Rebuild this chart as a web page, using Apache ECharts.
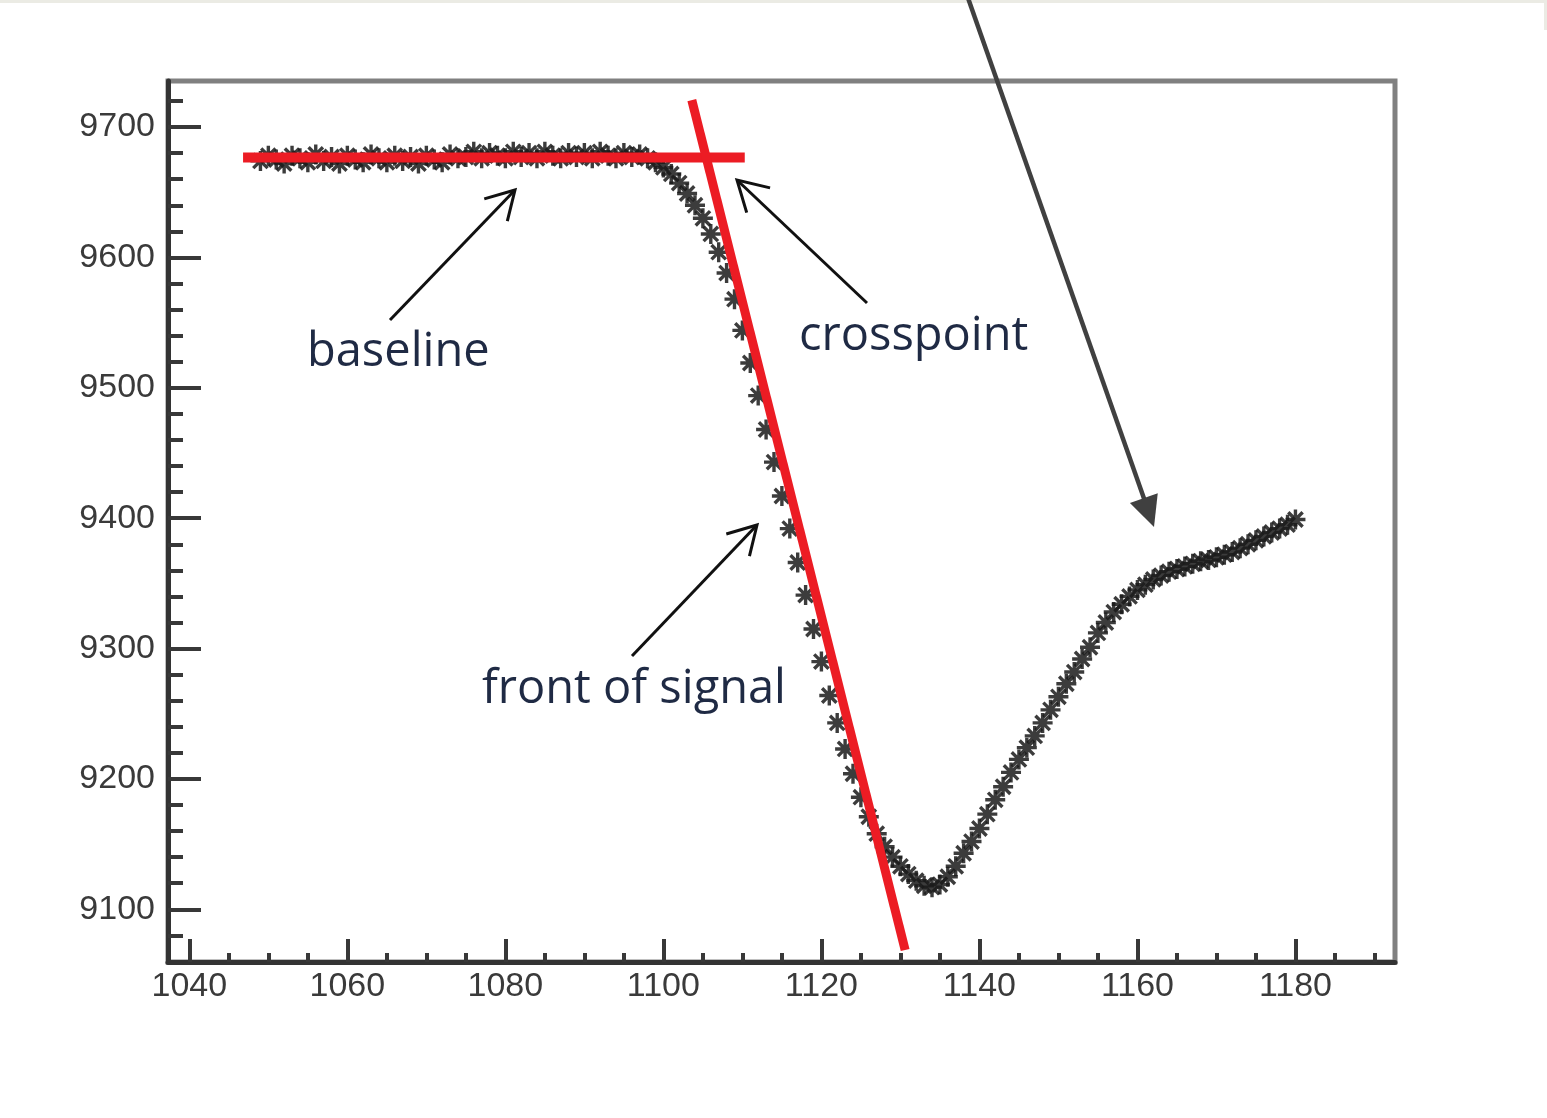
<!DOCTYPE html>
<html>
<head>
<meta charset="utf-8">
<script src="https://cdn.jsdelivr.net/npm/echarts@6/dist/echarts.min.js"></script>
<style>
html,body{margin:0;padding:0;background:#fff}
#main{width:1547px;height:1118px}
</style>
</head>
<body>
<div id="main"></div>
<script>
// sample positions (1 unit step) and signal values
var startX = 1049;
var signalY = [
    9674, 9678, 9675, 9672, 9678, 9676, 9673, 9679, 9674, 9677, 9672, 9678, 9675,
    9673, 9679, 9676, 9673, 9678, 9674, 9677, 9672, 9678, 9675, 9673, 9679, 9676,
    9677, 9681, 9676, 9680, 9678, 9676, 9681, 9677, 9680, 9676, 9681, 9678,
    9676, 9680, 9677, 9680, 9676, 9681, 9678, 9676, 9680, 9677, 9679,
    9676, 9673, 9669, 9664, 9657, 9649, 9640, 9630, 9618, 9604, 9588, 9568,
    9544, 9519, 9494, 9468, 9443, 9417, 9392, 9366, 9341, 9315, 9290, 9264,
    9243, 9223, 9204, 9186, 9171, 9158, 9148, 9140, 9133, 9127, 9122, 9118,
    9117, 9119, 9125, 9133, 9143, 9152, 9162, 9173, 9184, 9194, 9205, 9215,
    9224, 9233, 9243, 9253, 9263, 9273, 9282, 9292, 9301, 9312, 9320, 9328,
    9334, 9340, 9345, 9349, 9353, 9356, 9359, 9361, 9363, 9365, 9367, 9368,
    9370, 9372, 9374, 9377, 9380, 9383, 9386, 9389, 9392, 9395, 9399
];
// red fit lines
var baseFitX = [1046.8, 1110.3];
var baseFitY = [9676.7, 9676.7];
var frontFitX = [1103.6, 1130.6];
var frontFitY = [9720.7, 9068.8];
// axis ticks: [from, to, step]
var xMajor = [1040, 1180, 20];
var xMinor = [1040, 1190, 5];
var yMajor = [9100, 9700, 100];
var yMinor = [9080, 9720, 20];

// plot frame (px) and value range
var GL = 168, GT = 81, GW = 1227, GH = 881;
var X_MIN = 1037.3, X_MAX = 1192.6, Y_MIN = 9059.6, Y_MAX = 9735.3;

function px(v) { return GL + (v - X_MIN) / (X_MAX - X_MIN) * GW; }
function py(v) { return GT + (Y_MAX - v) / (Y_MAX - Y_MIN) * GH; }

function pairs(xs, ys) {
    var out = [];
    for (var i = 0; i < ys.length; i++) out.push([xs[i], ys[i]]);
    return out;
}

var signalX = [];
for (var i = 0; i < signalY.length; i++) signalX.push(startX + i);

var tickColor = '#383838';

// grids: 0 data, 1 x major, 2 x minor, 3 y major, 4 y minor
var grids = [
    { left: GL, top: GT, width: GW, height: GH, show: true, borderColor: '#808080', borderWidth: 5, backgroundColor: '#fff' },
    { left: px(xMajor[0]), top: GT, width: px(xMajor[1]) - px(xMajor[0]), height: GH },
    { left: px(xMinor[0]), top: GT, width: px(xMinor[1]) - px(xMinor[0]), height: GH },
    { left: GL, top: py(yMajor[1]), width: GW, height: py(yMajor[0]) - py(yMajor[1]) },
    { left: GL, top: py(yMinor[1]), width: GW, height: py(yMinor[0]) - py(yMinor[1]) }
];

function hidden(idx) {
    return { type: 'value', gridIndex: idx, show: false, min: 0, max: 1 };
}

function makeTickAxis(idx, r, len, withLabel, margin) {
    var ax = {
        type: 'value', gridIndex: idx, min: r[0], max: r[1], interval: r[2],
        axisLine: { show: false },
        axisTick: { show: true, inside: true, length: len, lineStyle: { color: tickColor, width: 4 } },
        splitLine: { show: false }
    };
    if (withLabel) {
        ax.axisLabel = {
            show: true, margin: margin, fontFamily: 'Liberation Sans', fontSize: 34, color: '#3a3a3a',
            formatter: function (v) { return String(v); }
        };
    } else {
        ax.axisLabel = { show: false };
    }
    return ax;
}

var xAxes = [
    {
        type: 'value', gridIndex: 0, min: X_MIN, max: X_MAX,
        axisLine: { show: true, lineStyle: { color: '#333', width: 5 } },
        axisTick: { show: false }, axisLabel: { show: false }, splitLine: { show: false }
    },
    makeTickAxis(1, xMajor, 23, true, 8),
    makeTickAxis(2, xMinor, 9, false),
    hidden(3),
    hidden(4)
];
var yAxes = [
    {
        type: 'value', gridIndex: 0, min: Y_MIN, max: Y_MAX,
        axisLine: { show: true, lineStyle: { color: '#333', width: 5 } },
        axisTick: { show: false }, axisLabel: { show: false }, splitLine: { show: false }
    },
    hidden(1),
    hidden(2),
    makeTickAxis(3, yMajor, 33, true, 13),
    makeTickAxis(4, yMinor, 15, false)
];

// 箭头
function arrow(tail, tip, headLen, color, width, filled) {
    var dx = tail[0] - tip[0], dy = tail[1] - tip[1];
    var len = Math.sqrt(dx * dx + dy * dy);
    var ux = dx / len, uy = dy / len;
    var a = filled ? Math.PI / 7 : Math.PI / 6;
    var p1 = [tip[0] + headLen * (ux * Math.cos(a) - uy * Math.sin(a)), tip[1] + headLen * (ux * Math.sin(a) + uy * Math.cos(a))];
    var p2 = [tip[0] + headLen * (ux * Math.cos(-a) - uy * Math.sin(-a)), tip[1] + headLen * (ux * Math.sin(-a) + uy * Math.cos(-a))];
    var els = [];
    var shaftEnd = filled ? [tip[0] + ux * headLen * 0.8, tip[1] + uy * headLen * 0.8] : tip;
    els.push({ type: 'line', shape: { x1: tail[0], y1: tail[1], x2: shaftEnd[0], y2: shaftEnd[1] }, style: { stroke: color, lineWidth: width }, z: 100 });
    if (filled) {
        els.push({ type: 'polygon', shape: { points: [tip, p1, p2] }, style: { fill: color }, z: 100 });
    } else {
        els.push({ type: 'polyline', shape: { points: [p1, tip, p2] }, style: { stroke: color, lineWidth: width, fill: null }, z: 100 });
    }
    return els;
}

function label(text, x, y) {
    return { type: 'text', x: x, y: y, z: 100, style: { text: text, font: '47px "Open Sans"', fill: '#1f2a44', textAlign: 'left', textVerticalAlign: 'middle' } };
}

var graphics = [
    { type: 'rect', shape: { x: 0, y: 0, width: 1547, height: 3 }, style: { fill: '#ebebe4' }, z: 100 },
    { type: 'rect', shape: { x: 1544, y: 0, width: 3, height: 30 }, style: { fill: '#ebebe4' }, z: 100 }
];
graphics = graphics
    .concat(arrow([390, 320], [515, 190], 32, '#111', 3, false))
    .concat(arrow([867, 303], [737, 180], 34, '#111', 3, false))
    .concat(arrow([632, 656], [757, 525], 32, '#111', 3, false))
    .concat(arrow([968, -2], [1154, 527], 34, '#404040', 4.5, true));
graphics.push(label('baseline', 307, 353));
graphics.push(label('crosspoint', 799, 337));
graphics.push(label('front of signal', 482, 690));

// ROOT 风格的 "*" 标记
var starPath = 'path://M0 8.3L20 8.3L20 11.7L0 11.7Z M8.3 0L11.7 0L11.7 20L8.3 20Z M1.6 4L4 1.6L18.4 16L16 18.4Z M16 1.6L18.4 4L4 18.4L1.6 16Z';

var chart = echarts.init(document.getElementById('main'), null, { renderer: 'canvas' });
chart.setOption({
    animation: false,
    backgroundColor: '#fff',
    grid: grids,
    xAxis: xAxes,
    yAxis: yAxes,
    series: [
        {
            type: 'scatter', xAxisIndex: 0, yAxisIndex: 0,
            data: pairs(signalX, signalY),
            symbol: starPath, symbolSize: 20,
            itemStyle: { color: '#1a1a1a', opacity: 0.85 },
            z: 2
        },
        {
            type: 'line', xAxisIndex: 0, yAxisIndex: 0,
            data: pairs(baseFitX, baseFitY),
            symbol: 'none', lineStyle: { color: '#ec1c24', width: 10, cap: 'butt' },
            z: 3
        },
        {
            type: 'line', xAxisIndex: 0, yAxisIndex: 0,
            data: pairs(frontFitX, frontFitY),
            symbol: 'none', lineStyle: { color: '#ec1c24', width: 9, cap: 'butt' },
            z: 3
        }
    ],
    graphic: graphics
});
</script>
</body>
</html>
